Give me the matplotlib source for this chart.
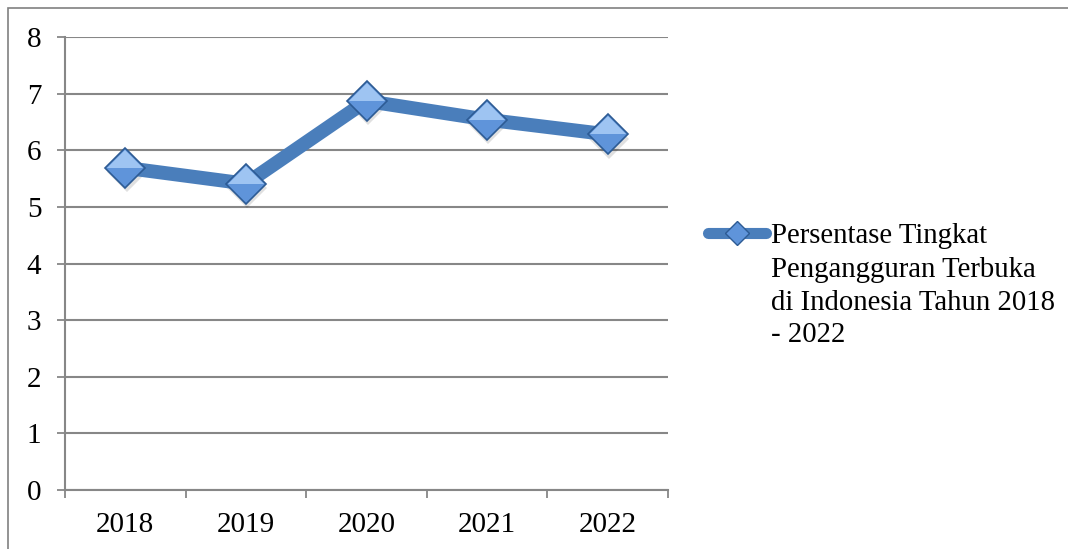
import matplotlib.pyplot as plt
import matplotlib.transforms as mtransforms
from matplotlib.lines import Line2D
from matplotlib.patches import Rectangle

years = ["2018", "2019", "2020", "2021", "2022"]
tpt = [5.69, 5.41, 6.87, 6.54, 6.28]
label_lines = ["Persentase Tingkat", "Pengangguran Terbuka",
               "di Indonesia Tahun 2018", "- 2022"]

plt.rcParams['font.family'] = ['Liberation Serif', 'DejaVu Serif']

blue = '#4A7EBB'
grey = '#878787'
light = '#9EC4F2'
dark = '#5F94DA'
edge = '#2D5B94'

fig = plt.figure(figsize=(10.68, 5.49), dpi=100)
ax = fig.add_axes([65 / 1068, 1 - 490 / 549, 603 / 1068, 453 / 549])

x = list(range(len(years)))

# soft shadow under the markers
shadow = mtransforms.offset_copy(ax.transData, fig=fig, x=1, y=-3, units='points')
ax.plot(x, tpt, linestyle='none', marker='D', markersize=20,
        color='#000000', alpha=0.12, markeredgewidth=0, transform=shadow, zorder=2)

ax.plot(x, tpt, color=blue, linewidth=10, solid_joinstyle='miter',
        marker='D', markersize=20, markerfacecolor=dark,
        markeredgecolor=edge, markeredgewidth=1.2, zorder=3)
# lighter upper half of each diamond
ax.plot(x, tpt, linestyle='none', marker='D', markersize=18.5, fillstyle='top',
        markerfacecolor=light, markerfacecoloralt='none',
        markeredgewidth=0, zorder=4)

ax.set_xlim(-0.5, len(years) - 0.5)
ax.set_ylim(0, 8)
ax.set_yticks(range(0, 9))
ax.set_xticks(x)
ax.set_xticklabels(years)
ax.set_xticks([i - 0.5 for i in range(len(years) + 1)], minor=True)
ax.tick_params(axis='x', which='major', length=0, pad=16, labelsize=21)
ax.tick_params(axis='x', which='minor', length=6, width=1.3, color=grey, direction='out')
ax.tick_params(axis='y', length=6, width=1.3, color=grey, pad=11, labelsize=21)

ax.grid(axis='y', color=grey, linewidth=1.5)
ax.set_axisbelow(True)
for s in ['top', 'right']:
    ax.spines[s].set_visible(False)
for s in ['left', 'bottom']:
    ax.spines[s].set_color(grey)
    ax.spines[s].set_linewidth(1.5)

# outer frame of the embedded chart (cut at the page edge)
fig.patches.append(Rectangle((8 / 1068, -0.2), 1.2, 1.2 - 8 / 549,
                             transform=fig.transFigure, fill=False,
                             edgecolor='#808080', linewidth=1.2))

handle = Line2D([], [], color=blue, linewidth=8, solid_capstyle='round',
                marker='D', markersize=12, markerfacecolor=dark,
                markeredgecolor=edge, markeredgewidth=1)
leg = fig.legend([handle], [label_lines[0]], loc='upper left',
                 bbox_to_anchor=(708 / 1068, 1 - 223 / 549), frameon=False,
                 fontsize=20.7, handlelength=2.0, handletextpad=0.2,
                 borderpad=0, borderaxespad=0)

fig.canvas.draw()
bb = leg.get_texts()[0].get_window_extent()
fig.text(bb.x0 / 1068, (bb.y0 - 8) / 549, "\n".join(label_lines[1:]),
         fontsize=20.7, va='top', ha='left', linespacing=1.33)

fig.savefig('out.png', dpi=100)
